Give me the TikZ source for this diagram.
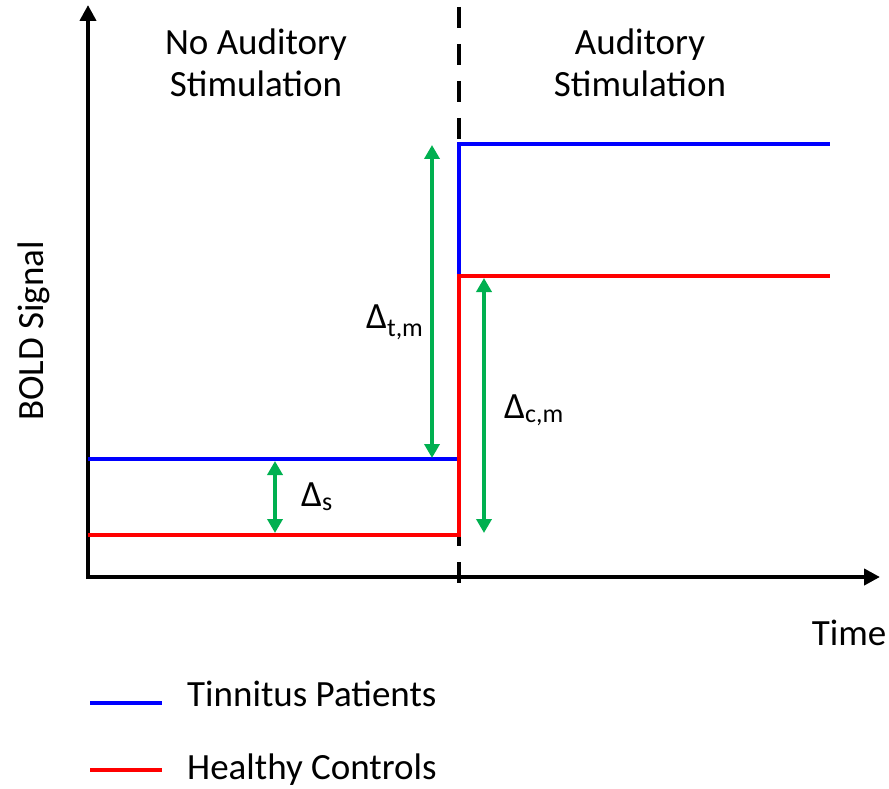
\documentclass[tikz,border=0pt]{standalone}
\usepackage{fontspec}
\setmainfont{Carlito}
\usetikzlibrary{arrows.meta}
\definecolor{tgreen}{HTML}{00B050}
\begin{document}
\begin{tikzpicture}[x=1pt,y=-1pt,
  axis/.style={line width=4.5pt,-{Triangle[length=16pt,width=16pt]}},
  sig/.style={line width=4.5pt},
  darr/.style={tgreen,line width=4.5pt,{Triangle[length=14pt,width=15pt]}-{Triangle[length=14pt,width=15pt]}},
  lbl/.style={font=\fontsize{37}{42}\selectfont,inner sep=0pt,align=center}]
\useasboundingbox (0,0) rectangle (889,789);
% axes
\coordinate (o) at (88,577);
\coordinate (ytop) at (88,5);
\coordinate (xend) at (880,577);
\draw[axis] (88,579) -- (ytop);
\draw[axis] (86,577) -- (xend);
% dashed divider
\coordinate (dtop) at (459,7);
\coordinate (dbot) at (459,583);
\draw[line width=4.5pt,dash pattern=on 21pt off 16pt] (dtop) -- (dbot);
% signals
\coordinate (b1) at (88,459);
\coordinate (b2) at (459,459);
\coordinate (b3) at (459,144);
\coordinate (b4) at (830,144);
\coordinate (r1) at (88,535);
\coordinate (r2) at (459,535);
\coordinate (r3) at (459,276);
\coordinate (r4) at (830,276);
\draw[sig,blue] (b1) -- (b2) -- (b3) -- (b4);
\draw[sig,red] (r1) -- (r2) -- (r3) -- (r4);
% green deltas
\coordinate (s1) at (275,461);
\coordinate (s2) at (275,533);
\coordinate (t1) at (432,145);
\coordinate (t2) at (432,458);
\coordinate (c1) at (484,278);
\coordinate (c2) at (484,533);
\draw[darr] (s1) -- (s2);
\draw[darr] (t1) -- (t2);
\draw[darr] (c1) -- (c2);
\node[lbl,anchor=west] (ds) at (301,497) {Δ\textsubscript{s}};
\node[lbl,anchor=west] (dt) at (366,322) {Δ\textsubscript{t,m}};
\node[lbl,anchor=west] (dc) at (504,410) {Δ\textsubscript{c,m}};
% headings
\node[lbl] (h1) at (256,63) {No Auditory\\Stimulation};
\node[lbl] (h2) at (640,63) {Auditory\\Stimulation};
\node[lbl,rotate=90] (yl) at (34,331) {BOLD Signal};
\node[lbl] (xl) at (849,633) {Time};
% legend
\coordinate (lb1) at (90,703);
\coordinate (lb2) at (162,703);
\coordinate (lr1) at (90,770);
\coordinate (lr2) at (162,770);
\draw[sig,blue] (lb1) -- (lb2);
\draw[sig,red] (lr1) -- (lr2);
\node[lbl,anchor=west] (lt) at (187,694) {Tinnitus Patients};
\node[lbl,anchor=west] (lh) at (187,770) {Healthy Controls};
\end{tikzpicture}
\end{document}
